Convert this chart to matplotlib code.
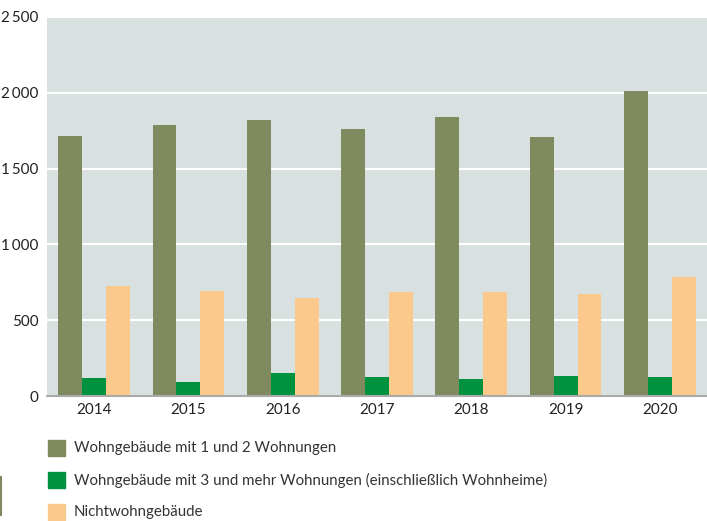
import numpy as np
import matplotlib
matplotlib.use("Agg")
import matplotlib.pyplot as plt
from matplotlib.patches import Rectangle
from matplotlib.lines import Line2D

plt.rcParams['font.family'] = ['Lato', 'DejaVu Sans']

# Daten
years = ['2014', '2015', '2016', '2017', '2018', '2019', '2020']
ein_zwei = [1714, 1786, 1819, 1760, 1839, 1707, 2010]
drei_mehr = [119, 92, 152, 125, 112, 132, 125]
nichtwohn = [725, 692, 646, 686, 686, 672, 784]
labels = ['Wohngebäude mit 1 und 2 Wohnungen',
          'Wohngebäude mit 3 und mehr Wohnungen (einschließlich Wohnheime)',
          'Nichtwohngebäude']
yticks = [0, 500, 1000, 1500, 2000, 2500]
ytick_labels = ['0', '500', '1\u2009000', '1\u2009500', '2\u2009000', '2\u2009500']

colors = ['#7f8a5f', '#00923f', '#fbc98b']

fig = plt.figure(figsize=(7.07, 5.21), dpi=100)
ax = fig.add_axes([47 / 707, 1 - 396 / 521, 660 / 707, 379 / 521])

x = np.arange(len(years))
w = 0.254
for i, (vals, c) in enumerate(zip([ein_zwei, drei_mehr, nichtwohn], colors)):
    ax.bar(x + (i - 1) * w, vals, width=w, color=c, zorder=3)

ax.set_facecolor('#d9e1e0')
ax.set_xlim(-0.5, len(years) - 0.5)
ax.set_ylim(0, 2500)
ax.set_yticks(yticks)
ax.set_yticklabels(ytick_labels)
ax.set_xticks(x)
ax.set_xticklabels(years)
ax.tick_params(axis='both', length=0, labelsize=11, colors='#222222')
ax.tick_params(axis='y', pad=6)
ax.tick_params(axis='x', pad=5)
ax.grid(axis='y', color='white', linewidth=1.5, zorder=1)
for s in ['top', 'right', 'left']:
    ax.spines[s].set_visible(False)
ax.spines['bottom'].set_color('#aaaaaa')
ax.spines['bottom'].set_linewidth(1.5)
ax.spines['bottom'].set_zorder(4)

# Legende
for i, (lab, c) in enumerate(zip(labels, colors)):
    yc = 448 + i * 32
    fig.patches.append(Rectangle((48 / 707, 1 - (yc + 8) / 521), 17 / 707, 16 / 521,
                                 transform=fig.transFigure, color=c))
    fig.text(74 / 707, 1 - yc / 521, lab, fontsize=10.8, color='#333333',
             va='center', ha='left')

fig.lines.append(Line2D([1 / 707, 1 / 707], [1 - 477 / 521, 1 - 515 / 521],
                        transform=fig.transFigure, color='#7f8a5f', linewidth=1.5))

fig.savefig('out.png', dpi=100)
